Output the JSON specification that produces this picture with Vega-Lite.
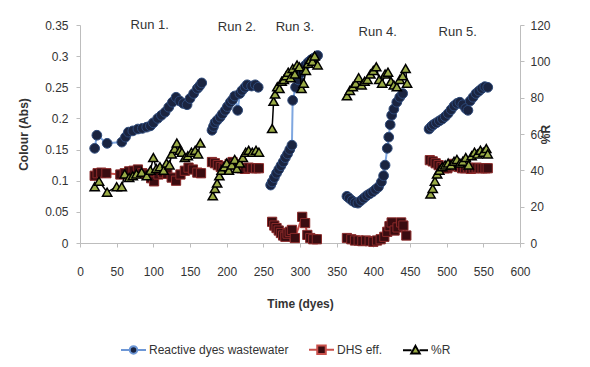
{
  "$schema": "https://vega.github.io/schema/vega-lite/v6.json",
  "width": 440,
  "height": 218,
  "autosize": {"type": "none"},
  "padding": {"left": 80, "top": 25, "right": 70, "bottom": 124},
  "background": "white",
  "config": {
    "view": {"stroke": null},
    "font": "Liberation Sans",
    "axis": {
      "grid": false,
      "labelFont": "Liberation Sans",
      "labelFontSize": 12,
      "labelColor": "#333333",
      "labelOverlap": false,
      "titleFont": "Liberation Sans",
      "titleFontSize": 12,
      "titleFontWeight": "bold",
      "titleColor": "#333333",
      "domainColor": "#bdbdbd",
      "tickColor": "#bdbdbd",
      "tickSize": 4
    }
  },
  "datasets": {
    "blue": [
      {"run": 1, "day": 20, "v": 0.152}, {"run": 1, "day": 23, "v": 0.173}, {"run": 1, "day": 37, "v": 0.160}, {"run": 1, "day": 57, "v": 0.162},
      {"run": 1, "day": 62, "v": 0.170}, {"run": 1, "day": 66, "v": 0.178}, {"run": 1, "day": 72, "v": 0.180}, {"run": 1, "day": 79, "v": 0.183},
      {"run": 1, "day": 85, "v": 0.184}, {"run": 1, "day": 91, "v": 0.186}, {"run": 1, "day": 96, "v": 0.188}, {"run": 1, "day": 100, "v": 0.193},
      {"run": 1, "day": 106, "v": 0.200}, {"run": 1, "day": 111, "v": 0.205}, {"run": 1, "day": 116, "v": 0.210}, {"run": 1, "day": 121, "v": 0.218},
      {"run": 1, "day": 126, "v": 0.226}, {"run": 1, "day": 131, "v": 0.234}, {"run": 1, "day": 136, "v": 0.228}, {"run": 1, "day": 141, "v": 0.224},
      {"run": 1, "day": 146, "v": 0.222}, {"run": 1, "day": 150, "v": 0.232}, {"run": 1, "day": 155, "v": 0.240}, {"run": 1, "day": 160, "v": 0.248},
      {"run": 1, "day": 163, "v": 0.252}, {"run": 1, "day": 166, "v": 0.257},
      {"run": 2, "day": 180, "v": 0.181}, {"run": 2, "day": 182, "v": 0.187}, {"run": 2, "day": 184, "v": 0.193}, {"run": 2, "day": 187, "v": 0.197},
      {"run": 2, "day": 191, "v": 0.202}, {"run": 2, "day": 194, "v": 0.207}, {"run": 2, "day": 198, "v": 0.213}, {"run": 2, "day": 201, "v": 0.219},
      {"run": 2, "day": 205, "v": 0.226}, {"run": 2, "day": 208, "v": 0.230}, {"run": 2, "day": 211, "v": 0.236}, {"run": 2, "day": 215, "v": 0.213},
      {"run": 2, "day": 218, "v": 0.240}, {"run": 2, "day": 221, "v": 0.245}, {"run": 2, "day": 225, "v": 0.250}, {"run": 2, "day": 228, "v": 0.254},
      {"run": 2, "day": 234, "v": 0.252}, {"run": 2, "day": 239, "v": 0.254}, {"run": 2, "day": 243, "v": 0.250},
      {"run": 3, "day": 260, "v": 0.093}, {"run": 3, "day": 262, "v": 0.098}, {"run": 3, "day": 265, "v": 0.105}, {"run": 3, "day": 268, "v": 0.112},
      {"run": 3, "day": 271, "v": 0.118}, {"run": 3, "day": 274, "v": 0.124}, {"run": 3, "day": 277, "v": 0.130}, {"run": 3, "day": 280, "v": 0.137},
      {"run": 3, "day": 283, "v": 0.143}, {"run": 3, "day": 286, "v": 0.150}, {"run": 3, "day": 289, "v": 0.157}, {"run": 3, "day": 290, "v": 0.229},
      {"run": 3, "day": 294, "v": 0.250}, {"run": 3, "day": 298, "v": 0.262}, {"run": 3, "day": 301, "v": 0.273}, {"run": 3, "day": 304, "v": 0.280},
      {"run": 3, "day": 307, "v": 0.285}, {"run": 3, "day": 311, "v": 0.290}, {"run": 3, "day": 315, "v": 0.294}, {"run": 3, "day": 319, "v": 0.297},
      {"run": 3, "day": 324, "v": 0.301},
      {"run": 4, "day": 364, "v": 0.075}, {"run": 4, "day": 367, "v": 0.072}, {"run": 4, "day": 371, "v": 0.068}, {"run": 4, "day": 375, "v": 0.065},
      {"run": 4, "day": 379, "v": 0.064}, {"run": 4, "day": 383, "v": 0.068}, {"run": 4, "day": 387, "v": 0.072}, {"run": 4, "day": 391, "v": 0.076},
      {"run": 4, "day": 395, "v": 0.079}, {"run": 4, "day": 399, "v": 0.082}, {"run": 4, "day": 403, "v": 0.086}, {"run": 4, "day": 407, "v": 0.090},
      {"run": 4, "day": 411, "v": 0.098}, {"run": 4, "day": 414, "v": 0.108}, {"run": 4, "day": 416, "v": 0.125}, {"run": 4, "day": 419, "v": 0.152},
      {"run": 4, "day": 421, "v": 0.170}, {"run": 4, "day": 423, "v": 0.190}, {"run": 4, "day": 425, "v": 0.205}, {"run": 4, "day": 428, "v": 0.215},
      {"run": 4, "day": 432, "v": 0.226}, {"run": 4, "day": 436, "v": 0.234}, {"run": 4, "day": 440, "v": 0.240},
      {"run": 5, "day": 476, "v": 0.183}, {"run": 5, "day": 479, "v": 0.187}, {"run": 5, "day": 482, "v": 0.190}, {"run": 5, "day": 486, "v": 0.193},
      {"run": 5, "day": 490, "v": 0.196}, {"run": 5, "day": 494, "v": 0.199}, {"run": 5, "day": 498, "v": 0.203}, {"run": 5, "day": 502, "v": 0.208},
      {"run": 5, "day": 506, "v": 0.214}, {"run": 5, "day": 510, "v": 0.220}, {"run": 5, "day": 514, "v": 0.224}, {"run": 5, "day": 518, "v": 0.226},
      {"run": 5, "day": 522, "v": 0.222}, {"run": 5, "day": 526, "v": 0.216}, {"run": 5, "day": 529, "v": 0.213}, {"run": 5, "day": 532, "v": 0.228},
      {"run": 5, "day": 536, "v": 0.234}, {"run": 5, "day": 540, "v": 0.240}, {"run": 5, "day": 544, "v": 0.244}, {"run": 5, "day": 548, "v": 0.248},
      {"run": 5, "day": 552, "v": 0.251}, {"run": 5, "day": 556, "v": 0.250}
    ],
    "red": [
      {"run": 1, "day": 20, "v": 0.108}, {"run": 1, "day": 24, "v": 0.112}, {"run": 1, "day": 29, "v": 0.113}, {"run": 1, "day": 36, "v": 0.112},
      {"run": 1, "day": 55, "v": 0.110}, {"run": 1, "day": 61, "v": 0.112}, {"run": 1, "day": 67, "v": 0.115}, {"run": 1, "day": 73, "v": 0.116},
      {"run": 1, "day": 79, "v": 0.118}, {"run": 1, "day": 85, "v": 0.112}, {"run": 1, "day": 91, "v": 0.110}, {"run": 1, "day": 97, "v": 0.104},
      {"run": 1, "day": 101, "v": 0.099}, {"run": 1, "day": 107, "v": 0.110}, {"run": 1, "day": 113, "v": 0.113}, {"run": 1, "day": 119, "v": 0.111},
      {"run": 1, "day": 125, "v": 0.105}, {"run": 1, "day": 131, "v": 0.100}, {"run": 1, "day": 137, "v": 0.110}, {"run": 1, "day": 143, "v": 0.116},
      {"run": 1, "day": 148, "v": 0.121}, {"run": 1, "day": 154, "v": 0.118}, {"run": 1, "day": 160, "v": 0.113}, {"run": 1, "day": 165, "v": 0.112},
      {"run": 2, "day": 180, "v": 0.130}, {"run": 2, "day": 184, "v": 0.128}, {"run": 2, "day": 188, "v": 0.125}, {"run": 2, "day": 192, "v": 0.122},
      {"run": 2, "day": 196, "v": 0.120}, {"run": 2, "day": 200, "v": 0.123}, {"run": 2, "day": 204, "v": 0.127}, {"run": 2, "day": 208, "v": 0.130},
      {"run": 2, "day": 212, "v": 0.126}, {"run": 2, "day": 216, "v": 0.122}, {"run": 2, "day": 220, "v": 0.120}, {"run": 2, "day": 225, "v": 0.119},
      {"run": 2, "day": 230, "v": 0.121}, {"run": 2, "day": 235, "v": 0.120}, {"run": 2, "day": 240, "v": 0.120}, {"run": 2, "day": 244, "v": 0.120},
      {"run": 3, "day": 262, "v": 0.034}, {"run": 3, "day": 265, "v": 0.028}, {"run": 3, "day": 268, "v": 0.024}, {"run": 3, "day": 271, "v": 0.020},
      {"run": 3, "day": 274, "v": 0.016}, {"run": 3, "day": 277, "v": 0.012}, {"run": 3, "day": 280, "v": 0.010}, {"run": 3, "day": 283, "v": 0.015},
      {"run": 3, "day": 286, "v": 0.018}, {"run": 3, "day": 289, "v": 0.021}, {"run": 3, "day": 293, "v": 0.008}, {"run": 3, "day": 303, "v": 0.042},
      {"run": 3, "day": 307, "v": 0.032}, {"run": 3, "day": 310, "v": 0.013}, {"run": 3, "day": 314, "v": 0.008}, {"run": 3, "day": 318, "v": 0.006},
      {"run": 3, "day": 323, "v": 0.006},
      {"run": 4, "day": 364, "v": 0.008}, {"run": 4, "day": 370, "v": 0.006}, {"run": 4, "day": 375, "v": 0.004}, {"run": 4, "day": 380, "v": 0.004},
      {"run": 4, "day": 385, "v": 0.003}, {"run": 4, "day": 390, "v": 0.004}, {"run": 4, "day": 395, "v": 0.003}, {"run": 4, "day": 400, "v": 0.002},
      {"run": 4, "day": 405, "v": 0.004}, {"run": 4, "day": 410, "v": 0.006}, {"run": 4, "day": 415, "v": 0.010}, {"run": 4, "day": 419, "v": 0.018},
      {"run": 4, "day": 422, "v": 0.027}, {"run": 4, "day": 425, "v": 0.033}, {"run": 4, "day": 429, "v": 0.020}, {"run": 4, "day": 433, "v": 0.025},
      {"run": 4, "day": 438, "v": 0.033}, {"run": 4, "day": 441, "v": 0.028}, {"run": 4, "day": 445, "v": 0.012},
      {"run": 5, "day": 477, "v": 0.133}, {"run": 5, "day": 481, "v": 0.131}, {"run": 5, "day": 485, "v": 0.128}, {"run": 5, "day": 489, "v": 0.125},
      {"run": 5, "day": 493, "v": 0.122}, {"run": 5, "day": 497, "v": 0.120}, {"run": 5, "day": 501, "v": 0.120}, {"run": 5, "day": 505, "v": 0.123},
      {"run": 5, "day": 509, "v": 0.127}, {"run": 5, "day": 513, "v": 0.125}, {"run": 5, "day": 517, "v": 0.122}, {"run": 5, "day": 521, "v": 0.120},
      {"run": 5, "day": 525, "v": 0.120}, {"run": 5, "day": 529, "v": 0.121}, {"run": 5, "day": 533, "v": 0.119}, {"run": 5, "day": 537, "v": 0.120},
      {"run": 5, "day": 541, "v": 0.121}, {"run": 5, "day": 545, "v": 0.120}, {"run": 5, "day": 549, "v": 0.120}, {"run": 5, "day": 553, "v": 0.120},
      {"run": 5, "day": 556, "v": 0.120}
    ],
    "green": [
      {"run": 1, "day": 20, "v": 31}, {"run": 1, "day": 26, "v": 34}, {"run": 1, "day": 37, "v": 28}, {"run": 1, "day": 50, "v": 31},
      {"run": 1, "day": 57, "v": 31}, {"run": 1, "day": 61, "v": 38}, {"run": 1, "day": 67, "v": 36}, {"run": 1, "day": 72, "v": 37},
      {"run": 1, "day": 77, "v": 38}, {"run": 1, "day": 84, "v": 39}, {"run": 1, "day": 91, "v": 37}, {"run": 1, "day": 96, "v": 40},
      {"run": 1, "day": 100, "v": 47}, {"run": 1, "day": 104, "v": 41}, {"run": 1, "day": 109, "v": 42}, {"run": 1, "day": 114, "v": 40},
      {"run": 1, "day": 118, "v": 44}, {"run": 1, "day": 122, "v": 43}, {"run": 1, "day": 125, "v": 49}, {"run": 1, "day": 129, "v": 52},
      {"run": 1, "day": 132, "v": 55}, {"run": 1, "day": 136, "v": 51}, {"run": 1, "day": 139, "v": 50}, {"run": 1, "day": 143, "v": 47},
      {"run": 1, "day": 147, "v": 48}, {"run": 1, "day": 152, "v": 50}, {"run": 1, "day": 157, "v": 51}, {"run": 1, "day": 161, "v": 49},
      {"run": 1, "day": 164, "v": 55},
      {"run": 2, "day": 181, "v": 26}, {"run": 2, "day": 184, "v": 30}, {"run": 2, "day": 187, "v": 33}, {"run": 2, "day": 190, "v": 37},
      {"run": 2, "day": 193, "v": 40}, {"run": 2, "day": 197, "v": 42}, {"run": 2, "day": 200, "v": 44}, {"run": 2, "day": 203, "v": 40},
      {"run": 2, "day": 207, "v": 43}, {"run": 2, "day": 211, "v": 46}, {"run": 2, "day": 214, "v": 41}, {"run": 2, "day": 218, "v": 44},
      {"run": 2, "day": 222, "v": 47}, {"run": 2, "day": 226, "v": 50}, {"run": 2, "day": 230, "v": 51}, {"run": 2, "day": 235, "v": 50},
      {"run": 2, "day": 240, "v": 51}, {"run": 2, "day": 244, "v": 50},
      {"run": 3, "day": 262, "v": 63}, {"run": 3, "day": 264, "v": 78}, {"run": 3, "day": 266, "v": 82}, {"run": 3, "day": 269, "v": 86},
      {"run": 3, "day": 272, "v": 85}, {"run": 3, "day": 275, "v": 89}, {"run": 3, "day": 278, "v": 90}, {"run": 3, "day": 281, "v": 92},
      {"run": 3, "day": 284, "v": 94}, {"run": 3, "day": 287, "v": 91}, {"run": 3, "day": 290, "v": 96}, {"run": 3, "day": 293, "v": 93},
      {"run": 3, "day": 296, "v": 98}, {"run": 3, "day": 299, "v": 97}, {"run": 3, "day": 302, "v": 85}, {"run": 3, "day": 305, "v": 88},
      {"run": 3, "day": 308, "v": 95}, {"run": 3, "day": 311, "v": 99}, {"run": 3, "day": 314, "v": 101}, {"run": 3, "day": 317, "v": 100},
      {"run": 3, "day": 320, "v": 103}, {"run": 3, "day": 324, "v": 98},
      {"run": 4, "day": 364, "v": 81}, {"run": 4, "day": 368, "v": 84}, {"run": 4, "day": 372, "v": 86}, {"run": 4, "day": 376, "v": 88},
      {"run": 4, "day": 380, "v": 91}, {"run": 4, "day": 384, "v": 87}, {"run": 4, "day": 388, "v": 89}, {"run": 4, "day": 392, "v": 90},
      {"run": 4, "day": 396, "v": 93}, {"run": 4, "day": 400, "v": 95}, {"run": 4, "day": 404, "v": 97}, {"run": 4, "day": 408, "v": 90},
      {"run": 4, "day": 412, "v": 88}, {"run": 4, "day": 416, "v": 93}, {"run": 4, "day": 420, "v": 94}, {"run": 4, "day": 424, "v": 89},
      {"run": 4, "day": 428, "v": 87}, {"run": 4, "day": 432, "v": 86}, {"run": 4, "day": 436, "v": 90}, {"run": 4, "day": 440, "v": 92},
      {"run": 4, "day": 444, "v": 96}, {"run": 4, "day": 446, "v": 88},
      {"run": 5, "day": 478, "v": 27}, {"run": 5, "day": 481, "v": 30}, {"run": 5, "day": 484, "v": 34}, {"run": 5, "day": 487, "v": 38},
      {"run": 5, "day": 490, "v": 40}, {"run": 5, "day": 494, "v": 42}, {"run": 5, "day": 498, "v": 43}, {"run": 5, "day": 502, "v": 44},
      {"run": 5, "day": 506, "v": 43}, {"run": 5, "day": 510, "v": 45}, {"run": 5, "day": 514, "v": 46}, {"run": 5, "day": 518, "v": 44},
      {"run": 5, "day": 522, "v": 45}, {"run": 5, "day": 526, "v": 47}, {"run": 5, "day": 530, "v": 43}, {"run": 5, "day": 534, "v": 48},
      {"run": 5, "day": 538, "v": 50}, {"run": 5, "day": 542, "v": 49}, {"run": 5, "day": 546, "v": 51}, {"run": 5, "day": 550, "v": 50},
      {"run": 5, "day": 554, "v": 52}, {"run": 5, "day": 556, "v": 49}
    ],
    "runs": [
      {"label": "Run 1.", "day": 95, "v": 0.350},
      {"label": "Run 2.", "day": 214, "v": 0.346},
      {"label": "Run 3.", "day": 293, "v": 0.346},
      {"label": "Run 4.", "day": 406, "v": 0.339},
      {"label": "Run 5.", "day": 515, "v": 0.339}
    ],
    "legend": [
      {"series": "Reactive dyes wastewater"},
      {"series": "DHS eff."},
      {"series": "%R"}
    ]
  },
  "encoding": {
    "x": {"field": "day", "type": "quantitative", "scale": {"domain": [0, 600], "nice": false},
          "axis": {"title": "Time (dyes)", "values": [0, 50, 100, 150, 200, 250, 300, 350, 400, 450, 500, 550, 600], "labelPadding": 19, "titlePadding": 21, "labelFlush": false, "labelOverlap": false}}
  },
  "layer": [
    {
      "encoding": {
        "y": {"field": "v", "type": "quantitative", "scale": {"domain": [0, 0.35], "nice": false},
              "axis": {"orient": "left", "title": "Colour (Abs)", "values": [0, 0.05, 0.1, 0.15, 0.2, 0.25, 0.3, 0.35], "format": ".2~f", "labelPadding": 8, "titlePadding": 14, "labelOverlap": false}}
      },
      "layer": [
        {
          "data": {"name": "blue"},
          "mark": {"type": "line", "color": "#7fa7e0", "strokeWidth": 2},
          "encoding": {"detail": {"field": "run", "type": "nominal"}}
        },
        {
          "data": {"name": "blue"},
          "mark": {"type": "point", "shape": "circle", "filled": true, "size": 95, "fill": "#1a2440", "stroke": "#2e4a7a", "strokeWidth": 1, "opacity": 1},
          "encoding": {}
        },
        {
          "data": {"name": "red"},
          "mark": {"type": "line", "color": "#c9504b", "strokeWidth": 2},
          "encoding": {"detail": {"field": "run", "type": "nominal"}}
        },
        {
          "data": {"name": "red"},
          "mark": {"type": "point", "shape": "square", "filled": true, "size": 85, "fill": "#3a0c10", "stroke": "#8b2a2a", "strokeWidth": 1, "opacity": 1},
          "encoding": {}
        },
        {
          "data": {"name": "runs"},
          "mark": {"type": "text", "fontSize": 13, "font": "Liberation Sans", "color": "#333333", "baseline": "middle", "align": "center"},
          "encoding": {"text": {"field": "label", "type": "nominal"}}
        },
        {
          "data": {"name": "legend"},
          "mark": {"type": "point", "filled": true, "opacity": 0},
          "encoding": {
            "shape": {"field": "series", "type": "nominal",
              "scale": {"domain": ["Reactive dyes wastewater", "DHS eff.", "%R"],
                        "range": ["M-1,0H-0.3M0.3,0H1M-0.3,0A0.3,0.3,0,1,0,0.3,0A0.3,0.3,0,1,0,-0.3,0Z",
                                  "M-1,0H-0.34M0.34,0H1M-0.34,-0.34H0.34V0.34H-0.34Z",
                                  "M-1,0H-0.32M0.32,0H1M0,-0.34L0.34,0.26L-0.34,0.26Z"]},
              "legend": {"orient": "none", "legendX": 40, "legendY": 311, "direction": "horizontal", "title": null, "symbolSize": 625, "symbolStrokeWidth": 2, "labelFontSize": 12, "labelFont": "Liberation Sans", "labelColor": "#333333", "columnPadding": 16, "labelOffset": 2, "padding": 0, "encode": {"symbols": {"update": {"opacity": {"value": 1}}}}}},
            "fill": {"field": "series", "type": "nominal",
              "scale": {"domain": ["Reactive dyes wastewater", "DHS eff.", "%R"], "range": ["#1a2440", "#3a0c10", "#9aab45"]},
              "legend": {"orient": "none", "legendX": 40, "legendY": 311, "direction": "horizontal", "title": null, "symbolSize": 625, "symbolStrokeWidth": 2, "labelFontSize": 12, "labelFont": "Liberation Sans", "labelColor": "#333333", "columnPadding": 16, "labelOffset": 2, "padding": 0, "encode": {"symbols": {"update": {"opacity": {"value": 1}}}}}},
            "stroke": {"field": "series", "type": "nominal",
              "scale": {"domain": ["Reactive dyes wastewater", "DHS eff.", "%R"], "range": ["#6d97d6", "#c9504b", "#000000"]},
              "legend": {"orient": "none", "legendX": 40, "legendY": 311, "direction": "horizontal", "title": null, "symbolSize": 625, "symbolStrokeWidth": 2, "labelFontSize": 12, "labelFont": "Liberation Sans", "labelColor": "#333333", "columnPadding": 16, "labelOffset": 2, "padding": 0, "encode": {"symbols": {"update": {"opacity": {"value": 1}}}}}}
          }
        }
      ]
    },
    {
      "data": {"name": "green"},
      "encoding": {
        "y": {"field": "v", "type": "quantitative", "scale": {"domain": [0, 120], "nice": false},
              "axis": {"orient": "right", "title": "%R", "values": [0, 20, 40, 60, 80, 100, 120], "labelPadding": 6, "titlePadding": 2, "titleAngle": 270, "labelOverlap": false}}
      },
      "layer": [
        {
          "mark": {"type": "line", "color": "#000000", "strokeWidth": 1.5},
          "encoding": {"detail": {"field": "run", "type": "nominal"}}
        },
        {
          "mark": {"type": "point", "shape": "triangle-up", "filled": true, "size": 85, "fill": "#9aab45", "stroke": "#000000", "strokeWidth": 1.5, "opacity": 1},
          "encoding": {}
        }
      ]
    }
  ],
  "resolve": {"scale": {"y": "independent"}}
}
